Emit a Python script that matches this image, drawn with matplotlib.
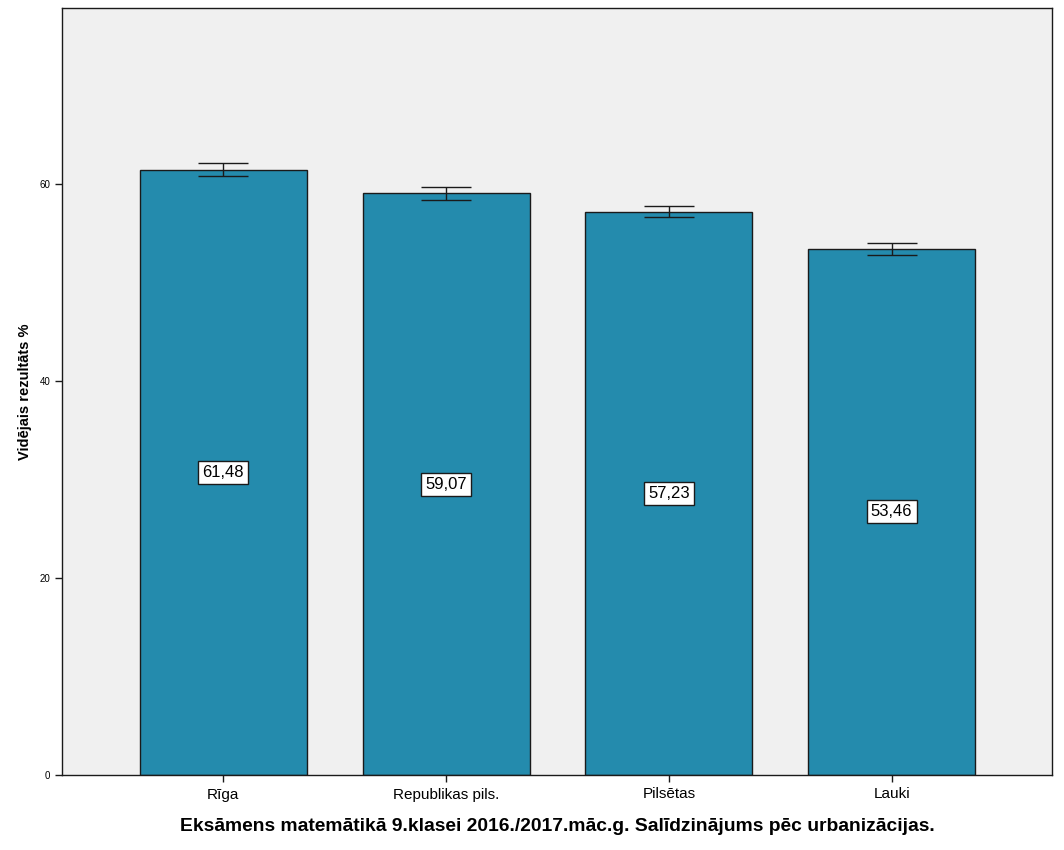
import matplotlib
matplotlib.use('Agg')
import matplotlib.pyplot as plt

plt.rcParams['font.family'] = ['Liberation Sans', 'DejaVu Sans']

# data
regions = ['Rīga', 'Republikas pils.', 'Pilsētas', 'Lauki']
means = [61.48, 59.07, 57.23, 53.46]
ci_half = [0.66, 0.70, 0.60, 0.62]
yticks = [0, 20, 40, 60]

bar_color = '#248BAD'
bg_color = '#F0F0F0'

fig = plt.figure(figsize=(10.64, 8.5), dpi=100)
ax = fig.add_axes([62 / 1064, 75 / 850, 990 / 1064, 767 / 850])
ax.set_facecolor(bg_color)

x = list(range(len(regions)))
ax.bar(x, means, width=0.75, color=bar_color, edgecolor='#1a1a1a', linewidth=1.0, zorder=2)
ax.errorbar(x, means, yerr=ci_half, fmt='none', ecolor='#1a1a1a', elinewidth=1.0,
            capsize=18, capthick=1.0, zorder=3)

# value labels in the middle of each bar
for xi, m in zip(x, means):
    ax.text(xi, m / 2, f'{m:.2f}'.replace('.', ','), ha='center', va='center', fontsize=12,
            bbox=dict(boxstyle='square,pad=0.25', facecolor='white', edgecolor='#1a1a1a', linewidth=1.0),
            zorder=4)

ax.set_xlim(-0.724, 3.72)
ax.set_ylim(0, 77.9)
ax.set_yticks(yticks)
ax.set_yticklabels([str(t) for t in yticks], fontsize=7)
ax.set_xticks(x)
ax.set_xticklabels(regions, fontsize=11)
ax.tick_params(axis='both', direction='out', length=5, width=1, color='#1a1a1a')
ax.tick_params(axis='x', pad=4)

for s in ax.spines.values():
    s.set_color('#1a1a1a')
    s.set_linewidth(1.0)

ax.set_ylabel('Vidējais rezultāts %', fontsize=10.5, fontweight='bold', labelpad=5)
ax.set_xlabel('Eksāmens matemātikā 9.klasei 2016./2017.māc.g. Salīdzinājums pēc urbanizācijas.',
              fontsize=13.9, fontweight='bold', labelpad=12)

fig.savefig('out.png', dpi=100, facecolor='white')
